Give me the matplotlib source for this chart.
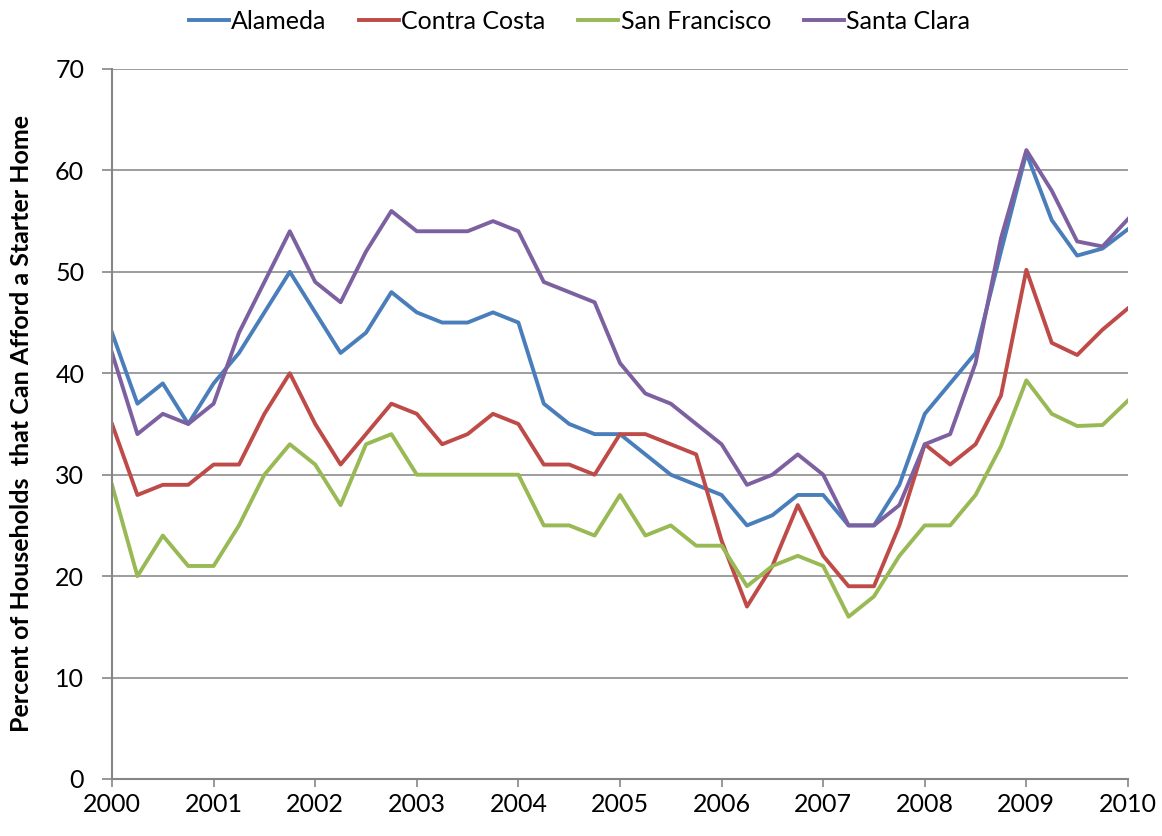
import matplotlib
matplotlib.use("Agg")
import matplotlib.pyplot as plt

plt.rcParams["font.family"] = ["Lato", "DejaVu Sans"]

# quarterly, 2000 Q1 .. 2010 Q1
quarters = [2000 + i / 4 for i in range(41)]
years = list(range(2000, 2011))

alameda = [44, 37, 39, 35, 39, 42, 46, 50, 46, 42, 44, 48, 46, 45, 45, 46,
           45, 37, 35, 34, 34, 32, 30, 29, 28, 25, 26, 28, 28, 25, 25, 29,
           36, 39, 42, 52, 61.7, 55.1, 51.6, 52.3, 54.2]
contra_costa = [35, 28, 29, 29, 31, 31, 36, 40, 35, 31, 34, 37, 36, 33, 34, 36,
                35, 31, 31, 30, 34, 34, 33, 32, 23.5, 17, 21, 27, 22, 19, 19, 25,
                33, 31, 33, 37.8, 50.2, 43, 41.8, 44.3, 46.4]
san_francisco = [29, 20, 24, 21, 21, 25, 30, 33, 31, 27, 33, 34, 30, 30, 30, 30,
                 30, 25, 25, 24, 28, 24, 25, 23, 23, 19, 21, 22, 21, 16, 18, 22,
                 25, 25, 28, 32.8, 39.3, 36, 34.8, 34.9, 37.3]
santa_clara = [42, 34, 36, 35, 37, 44, 49, 54, 49, 47, 52, 56, 54, 54, 54, 55,
               54, 49, 48, 47, 41, 38, 37, 35, 33, 29, 30, 32, 30, 25, 25, 27,
               33, 34, 41, 53.3, 62, 58, 53, 52.5, 55.2]

series = [
    ("Alameda", alameda, "#4a7ebb"),
    ("Contra Costa", contra_costa, "#be4b48"),
    ("San Francisco", san_francisco, "#98b954"),
    ("Santa Clara", santa_clara, "#7d60a0"),
]

fig = plt.figure(figsize=(11.62, 8.36), dpi=100)
ax = fig.add_axes([0.0964, 0.0682, 0.8743, 0.8493])

for name, vals, col in series:
    ax.plot(quarters, vals, color=col, lw=2.8, label=name)

ax.set_xlim(2000, 2010)
ax.set_ylim(0, 70)
ax.set_xticks(years)
ax.set_yticks(range(0, 71, 10))
ax.grid(axis="y", color="#8c8c8c", lw=1.2)
ax.set_axisbelow(True)

for s in ["top", "right"]:
    ax.spines[s].set_visible(False)
for s in ["left", "bottom"]:
    ax.spines[s].set_color("#868686")
    ax.spines[s].set_linewidth(1.5)

ax.tick_params(axis="y", length=7, width=1.2, color="#868686", labelsize=18, pad=13)
ax.tick_params(axis="x", length=6, width=1.2, color="#868686", labelsize=18, pad=4)

ax.set_ylabel("Percent of Households  that Can Afford a Starter Home",
              fontsize=18, fontweight="bold", labelpad=16)

ax.legend(loc="upper center", bbox_to_anchor=(0.46, 1.115), ncol=4, frameon=False,
          fontsize=18, handlelength=1.6, handletextpad=0.1, columnspacing=1.3)

plt.savefig("out.png", dpi=100)
